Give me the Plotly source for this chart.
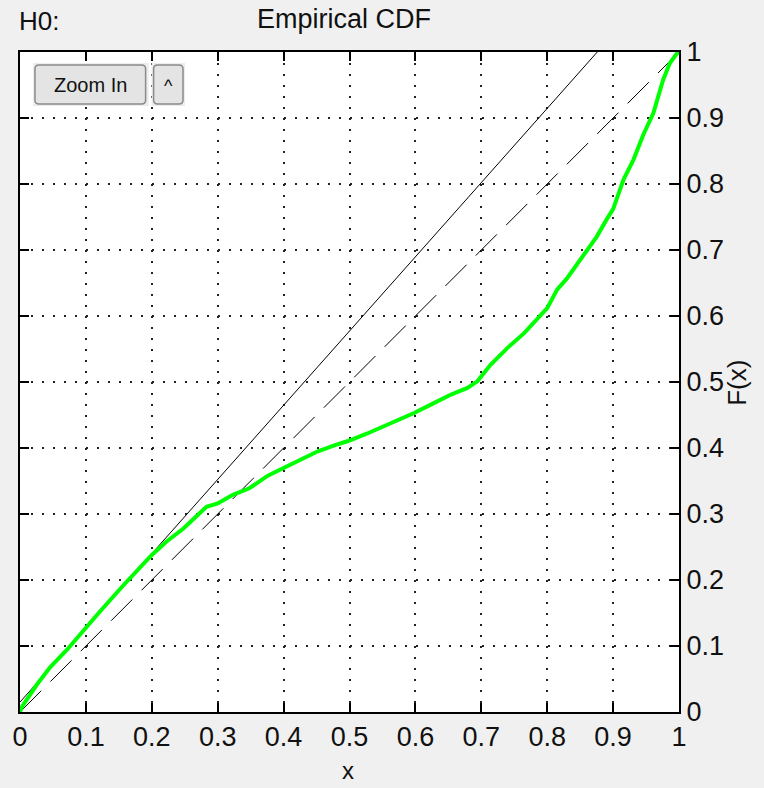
import plotly.graph_objects as go

# ---- data ----
ecdf_x = [0, 0.003, 0.026, 0.046, 0.071, 0.10, 0.121, 0.157, 0.2, 0.222, 0.248, 0.283, 0.3,
          0.323, 0.348, 0.376, 0.401, 0.427, 0.452, 0.477, 0.499, 0.527, 0.553, 0.578, 0.598,
          0.628, 0.654, 0.679, 0.694, 0.714, 0.739, 0.765, 0.79, 0.8, 0.815, 0.83, 0.845, 0.86,
          0.875, 0.89, 0.9, 0.916, 0.931, 0.946, 0.961, 0.976, 0.986, 0.997, 1.0]
ecdf_y = [0, 0.008, 0.042, 0.068, 0.094, 0.128, 0.152, 0.192, 0.238, 0.258, 0.278, 0.311, 0.316,
          0.329, 0.339, 0.358, 0.370, 0.383, 0.395, 0.404, 0.411, 0.422, 0.433, 0.443, 0.453,
          0.468, 0.481, 0.491, 0.501, 0.526, 0.551, 0.574, 0.602, 0.612, 0.64, 0.657, 0.678, 0.698,
          0.72, 0.746, 0.762, 0.807, 0.837, 0.875, 0.907, 0.958, 0.983, 0.998, 1.0]
ref_x = [0, 1]
ref_y = [0, 1]
bound_x = [0, 0.876]
bound_y = [0.015, 1]
tick_vals = [0, 0.1, 0.2, 0.3, 0.4, 0.5, 0.6, 0.7, 0.8, 0.9, 1]
tick_text = ["0", "0.1", "0.2", "0.3", "0.4", "0.5", "0.6", "0.7", "0.8", "0.9", "1"]

W, H = 764, 788
L, R, T, B = 18, 85, 52, 76
PW, PH = W - L - R, H - T - B
FONT = "Liberation Sans, Arial, sans-serif"


def fx(px):
    return (px - L) / PW


def fy(py):
    return (H - B - py) / PH


fig = go.Figure()
fig.add_trace(go.Scatter(x=bound_x, y=bound_y, mode="lines",
                         line=dict(color="black", width=1), showlegend=False))
fig.add_trace(go.Scatter(x=ref_x, y=ref_y, mode="lines",
                         line=dict(color="black", width=1, dash="30px,13px"), showlegend=False))
fig.add_trace(go.Scatter(x=ecdf_x, y=ecdf_y, mode="lines",
                         line=dict(color="#00ff00", width=4), showlegend=False))


def rrect(x0, y0, x1, y1, r=4):
    rx, ry = r / PW, r / PH
    X0, X1 = fx(x0), fx(x1)
    Y0, Y1 = fy(y1), fy(y0)
    return (f"M {X0+rx},{Y0} L {X1-rx},{Y0} Q {X1},{Y0} {X1},{Y0+ry} "
            f"L {X1},{Y1-ry} Q {X1},{Y1} {X1-rx},{Y1} L {X0+rx},{Y1} "
            f"Q {X0},{Y1} {X0},{Y1-ry} L {X0},{Y0+ry} Q {X0},{Y0} {X0+rx},{Y0} Z")


shapes = [
    dict(type="rect", xref="paper", yref="paper", x0=fx(31), x1=fx(147), y0=fy(106), y1=fy(63),
         fillcolor="#ececec", line=dict(width=0), layer="above"),
    dict(type="rect", xref="paper", yref="paper", x0=fx(150), x1=fx(183.5), y0=fy(106), y1=fy(63),
         fillcolor="#ececec", line=dict(width=0), layer="above"),
    dict(type="path", xref="paper", yref="paper", path=rrect(33, 65, 144, 104),
         fillcolor="#e4e4e4", line=dict(color="#8a8a8a", width=1.5), layer="above"),
    dict(type="path", xref="paper", yref="paper", path=rrect(152, 65, 181.5, 104),
         fillcolor="#e4e4e4", line=dict(color="#8a8a8a", width=1.5), layer="above"),
]

annotations = [
    dict(text="Empirical CDF", x=fx(343), y=fy(19), xref="paper", yref="paper",
         showarrow=False, font=dict(family=FONT, size=27, color="#111"), xanchor="center", yanchor="middle"),
    dict(text="H0:", x=fx(15), y=fy(21), xref="paper", yref="paper",
         showarrow=False, font=dict(family=FONT, size=26, color="#111"), xanchor="left", yanchor="middle"),
    dict(text="x", x=fx(347), y=fy(770), xref="paper", yref="paper",
         showarrow=False, font=dict(family=FONT, size=24, color="#111"), xanchor="center", yanchor="middle"),
    dict(text="F(x)", x=fx(737), y=fy(383), xref="paper", yref="paper", textangle=-90,
         showarrow=False, font=dict(family=FONT, size=26, color="#111"), xanchor="center", yanchor="middle"),
    dict(text="Zoom In", x=fx(88.5), y=fy(85), xref="paper", yref="paper",
         showarrow=False, font=dict(family=FONT, size=20, color="#111"), xanchor="center", yanchor="middle"),
    dict(text="^", x=fx(166.5), y=fy(86), xref="paper", yref="paper",
         showarrow=False, font=dict(family=FONT, size=18, color="#111"), xanchor="center", yanchor="middle"),
]

axis_common = dict(
    range=[0, 1], tickvals=tick_vals, ticktext=tick_text, ticks="inside", ticklen=9,
    tickwidth=1.5, tickcolor="black", showline=True, linecolor="black", linewidth=2,
    mirror="ticks", showgrid=True, gridcolor="#222", gridwidth=1.5, griddash="2px,9px",
    zeroline=False, tickfont=dict(family=FONT, size=27, color="#111"), fixedrange=True,
)

fig.update_layout(
    width=W, height=H, margin=dict(l=L, r=R, t=T, b=B, pad=0),
    paper_bgcolor="#f0f0f0", plot_bgcolor="white",
    xaxis=dict(**axis_common),
    yaxis=dict(**axis_common, side="right"),
    shapes=shapes, annotations=annotations, showlegend=False,
)

fig.write_html("out.html", config={"displayModeBar": False})
